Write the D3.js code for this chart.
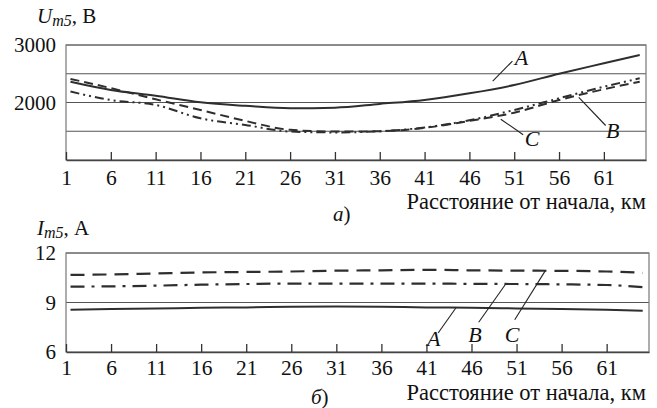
<!DOCTYPE html>
<html><head><meta charset="utf-8">
<script src="https://cdn.jsdelivr.net/npm/d3@7"></script>
<style>body{margin:0;background:#fff}svg{display:block}svg text{font-family:"Liberation Serif","DejaVu Serif",serif}</style>
</head><body>
<svg id="c" width="657" height="408"></svg>
<script>
// ---- data ----
const km = [1.5, 6, 11, 16, 21, 26, 31, 36, 41, 46, 51, 56, 61, 65];
const xTicks = [1, 6, 11, 16, 21, 26, 31, 36, 41, 46, 51, 56, 61];
// top chart: U_m5, V
const uA = [2360, 2217, 2118, 2003, 1942, 1900, 1910, 1975, 2045, 2160, 2304, 2500, 2682, 2826];
const uB = [2190, 2043, 1957, 1725, 1609, 1495, 1480, 1500, 1565, 1690, 1870, 2073, 2275, 2420];
const uC = [2410, 2250, 2055, 1870, 1680, 1525, 1495, 1500, 1560, 1680, 1823, 2043, 2230, 2362];
const uGrid = [1500, 2000, 2500, 3000];
const uLabels = [2000, 3000];
// bottom chart: I_m5, A
const iA = [8.56, 8.6, 8.63, 8.68, 8.7, 8.74, 8.76, 8.74, 8.7, 8.68, 8.64, 8.6, 8.56, 8.5];
const iB = [9.96, 9.98, 10.02, 10.08, 10.12, 10.15, 10.15, 10.15, 10.15, 10.13, 10.12, 10.1, 10.06, 9.93];
const iC = [10.67, 10.7, 10.76, 10.82, 10.85, 10.88, 10.93, 10.95, 10.98, 10.95, 10.93, 10.92, 10.88, 10.8];
const iGrid = [9, 12];
const iLabels = [6, 9, 12];
// leader annotations: [name, labelKm, labelVal, fromKm, fromVal, toKm, toVal]
const uNotes = [["A", 51.8, 2790, 50.8, 2720, 48.6, 2370], ["B", 62, 1520, 61.2, 1600, 58.2, 2090], ["C", 53, 1370, 52, 1440, 49.5, 1710]];
const iNotes = [["A", 41.8, 6.85, 42.3, 7.15, 44.3, 8.7], ["B", 46.4, 7.05, 46.8, 7.8, 49.8, 10.12], ["C", 50.5, 7.05, 50.8, 7.95, 54.2, 10.93]];

const svg = d3.select("#c");
const ink = "#2e2e2e";
const FF = "Liberation Serif, DejaVu Serif, serif";

function panel(o) {
  const x = d3.scaleLinear().domain([1, 65.7]).range([66, o.right]);
  const y = d3.scaleLinear().domain(o.yDomain).range([o.bottom, o.top]);
  const g = svg.append("g").attr("font-family", FF);
  // grid
  g.selectAll(".grid").data(o.grid).join("line")
    .attr("x1", 66).attr("x2", o.right).attr("y1", d => y(d)).attr("y2", d => y(d))
    .attr("stroke", "#555").attr("stroke-width", 1.2);
  // box
  g.append("rect").attr("x", 66).attr("y", o.top).attr("width", o.right - 66).attr("height", o.bottom - o.top)
    .attr("fill", "none").attr("stroke", "#777").attr("stroke-width", 1.2);
  // x axis
  const ax = d3.axisBottom(x).tickValues(o.xTicks).tickSizeInner(-8).tickSizeOuter(0).tickPadding(o.tickPad).tickFormat(d3.format("d"));
  const axg = g.append("g").attr("transform", `translate(0,${o.bottom})`).call(ax).attr("font-family", FF);
  axg.select(".domain").attr("stroke", "#444").attr("stroke-width", 1.5);
  axg.selectAll(".tick line").attr("stroke", "#333").attr("stroke-width", 1.3);
  axg.selectAll("text").attr("font-family", FF).attr("font-size", 21.5).attr("fill", "#111");
  // y labels
  g.selectAll(".yl").data(o.yLabels).join("text")
    .attr("x", 56).attr("y", d => y(d)).attr("dy", "0.35em").attr("text-anchor", "end")
    .attr("font-family", FF).attr("font-size", 21).attr("fill", "#111").text(d => d);
  // lines
  const line = d3.line().x((d, i) => x(km[i])).y(d => y(d)).curve(d3.curveMonotoneX);
  o.series.forEach(s => {
    g.append("path").attr("d", line(s.v)).attr("fill", "none").attr("stroke", ink)
      .attr("stroke-width", s.w).attr("stroke-dasharray", s.dash);
  });
  // notes
  o.notes.forEach(n => {
    g.append("line").attr("x1", x(n[3])).attr("y1", y(n[4])).attr("x2", x(n[5])).attr("y2", y(n[6]))
      .attr("stroke", "#222").attr("stroke-width", 1.1);
    g.append("text").attr("x", x(n[1])).attr("y", y(n[2])).attr("dy", "0.35em").attr("text-anchor", "middle")
      .attr("font-family", FF).attr("font-style", "italic").attr("font-size", 22).attr("fill", "#111").text(n[0]);
  });
  // axis title
  g.append("text").attr("x", 646).attr("y", o.xTitleY).attr("text-anchor", "end").attr("font-family", FF)
    .attr("font-size", 22.5).attr("fill", "#111").text("Расстояние от начала, км");
  // panel letter
  g.append("text").attr("x", o.letterX).attr("y", o.letterY).attr("font-family", FF).attr("font-size", 21).attr("fill", "#111")
    .call(t => { t.append("tspan").attr("font-style", "italic").text(o.letter); t.append("tspan").text(")"); });
  // y title
  const yt = g.append("text").attr("x", 37).attr("y", o.yTitleY).attr("font-family", FF).attr("font-size", 21).attr("fill", "#111");
  yt.append("tspan").attr("font-style", "italic").text(o.yt[0]);
  yt.append("tspan").attr("font-style", "italic").attr("font-size", 16).attr("dy", 3).text("m5");
  yt.append("tspan").attr("dy", -3).text(", " + o.yt[1]);
}

panel({
  top: 45, bottom: 160, right: 646, yDomain: [1000, 3000], grid: uGrid, yLabels: uLabels, xTicks: xTicks, tickPad: 10,
  series: [
    { v: uA, w: 2, dash: null },
    { v: uC, w: 2, dash: "9,5" },
    { v: uB, w: 2, dash: "9,4,2,4,2,4" }
  ],
  notes: uNotes, xTitleY: 209, letter: "а", letterX: 333, letterY: 221, yTitleY: 23, yt: ["U", "В"]
});
panel({
  top: 253, bottom: 352, right: 649, yDomain: [6, 12], grid: iGrid, yLabels: iLabels, xTicks: xTicks, tickPad: 8,
  series: [
    { v: iA, w: 2, dash: null },
    { v: iB, w: 2.2, dash: "14,7,3,7" },
    { v: iC, w: 2.2, dash: "14,8" }
  ],
  notes: iNotes, xTitleY: 400, letter: "б", letterX: 311, letterY: 404, yTitleY: 235, yt: ["I", "А"]
});
</script>
</body></html>
